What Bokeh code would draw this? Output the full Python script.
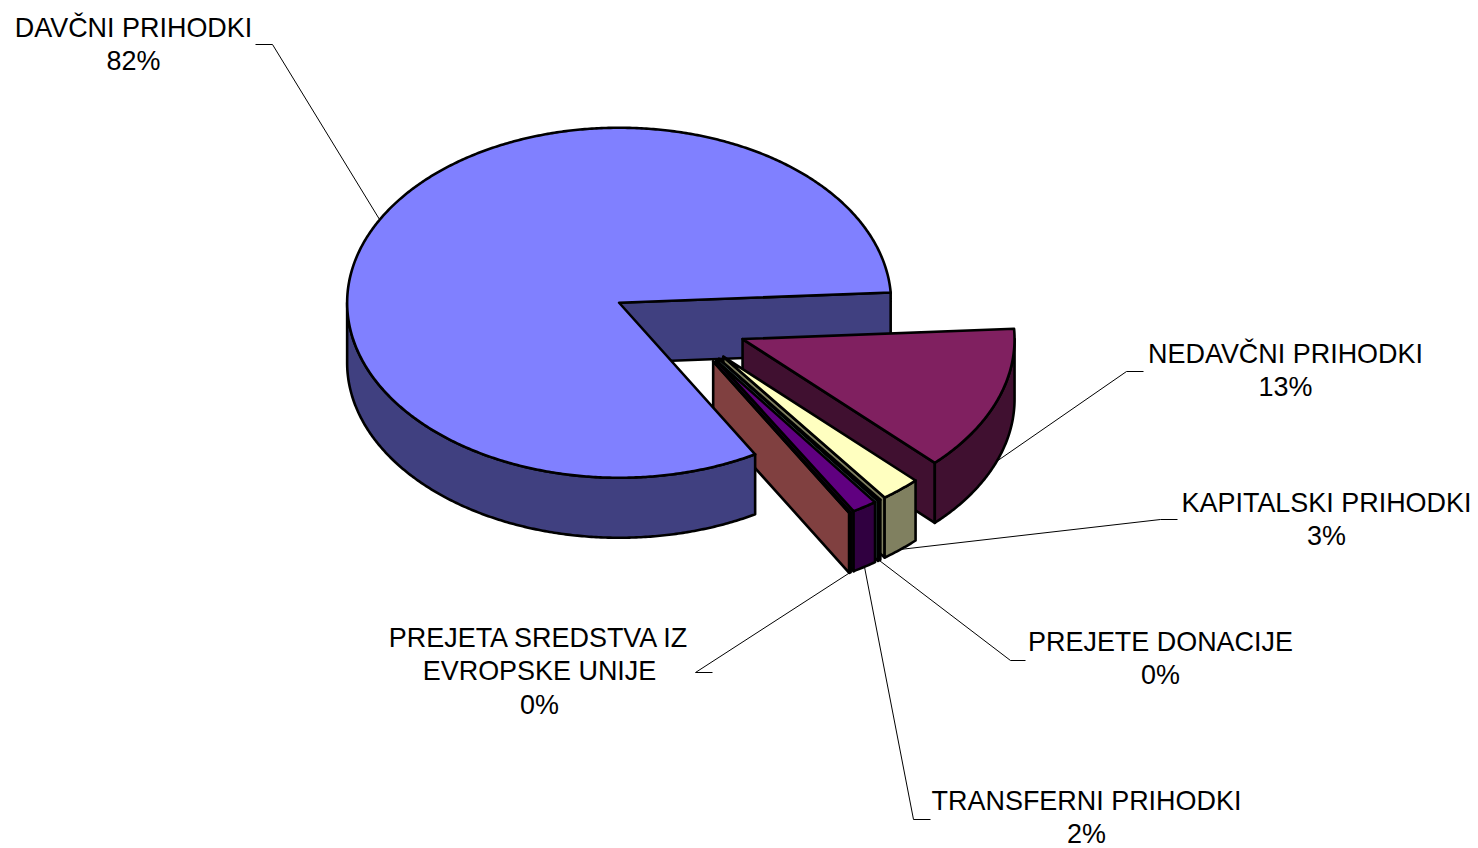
import numpy as np
from bokeh.plotting import figure
from bokeh.models import Range1d
from bokeh.core.properties import value
from bokeh.embed import file_html
from bokeh.resources import INLINE

# data
categories = ["DAVČNI PRIHODKI", "NEDAVČNI PRIHODKI", "KAPITALSKI PRIHODKI",
              "PREJETE DONACIJE", "TRANSFERNI PRIHODKI", "PREJETA SREDSTVA IZ EVROPSKE UNIJE"]
shares = [82.4, 13.44, 2.39, 0.17, 1.5, 0.1]
percent_labels = ["82%", "13%", "3%", "0%", "2%", "0%"]
top_colors = ["#8080FF", "#802060", "#FFFFC0", "#A0E0E0", "#600080", "#FF8080"]
side_colors = ["#404080", "#401030", "#808060", "#507070", "#300040", "#804040"]

# label layout: text centre x, first-line y, lines, leader elbow outer / inner x & y
label_lines = [["DAVČNI PRIHODKI"], ["NEDAVČNI PRIHODKI"], ["KAPITALSKI PRIHODKI"],
               ["PREJETE DONACIJE"], ["TRANSFERNI PRIHODKI"],
               ["PREJETA SREDSTVA IZ", "EVROPSKE UNIJE"]]
label_x = [133, 1285, 1326, 1160, 1086, 539]
label_y = [27, 353, 502, 641, 800, 637]
elbow_a = [(255, 44), (1143, 371), (1177, 519), (1025, 660), (930, 819), (712, 672)]
elbow_b = [(272, 44), (1126, 371), (1160, 519), (1010, 660), (913, 819), (695, 672)]

# 3-D pie geometry, in pixels of the picture
W, H = 1478, 848
CX, CY, RX, RY, DEPTH, EXPLODE = 678.5, 323.0, 272.0, 175.0, 60.0, 0.25
END_OF_FIRST = -60.0

p = figure(width=W, height=H, x_range=Range1d(0, W), y_range=Range1d(H, 0),
           toolbar_location=None, output_backend="svg", min_border=0,
           x_axis_type=None, y_axis_type=None, outline_line_color=None,
           background_fill_color="white", border_fill_color="white")
p.grid.visible = False


def pt(c, a, dy=0.0):
    r = np.radians(a)
    return c[0] + RX * np.cos(r), c[1] - RY * np.sin(r) + dy


def arc(c, a0, a1, dy=0.0):
    n = max(2, int(abs(a1 - a0) * 2) + 2)
    aa = np.linspace(a0, a1, n)
    r = np.radians(aa)
    return list(c[0] + RX * np.cos(r)), list(c[1] - RY * np.sin(r) + dy)


def draw(xs, ys, color):
    p.patch(xs, ys, fill_color=color, line_color="black", line_width=2.6, line_join="round")


sweeps = [s / sum(shares) * 360 for s in shares]
start = END_OF_FIRST
geo = []
anchors = []
for i, sw in enumerate(sweeps):
    a_hi, a_lo = start, start - sw
    start = a_lo
    mid = (a_hi + a_lo) / 2
    r = np.radians(mid)
    c = (CX + EXPLODE * RX * np.cos(r), CY - EXPLODE * RY * np.sin(r))
    if i > 0:
        a_hi += 360 if a_hi < -180 else 0
        a_lo += 360 if a_lo < -180 else 0
    geo.append((c, a_lo, a_hi))
    anchors.append(pt(c, mid) if i == 0 else pt(c, mid, DEPTH))


def radial(i):
    c, lo, hi = geo[i]
    x1, y1 = pt(c, lo)
    draw([c[0], x1, x1, c[0]], [c[1], y1, y1 + DEPTH, c[1] + DEPTH], side_colors[i])


def wall_and_top(i):
    c, lo, hi = geo[i]
    w0, w1 = max(lo, -180.0), min(hi, 0.0)
    if w1 > w0:
        ax, ay = arc(c, w0, w1)
        bx, by = arc(c, w1, w0, DEPTH)
        draw(ax + bx, ay + by, side_colors[i])
    ax, ay = arc(c, lo, hi)
    draw([c[0]] + ax, [c[1]] + ay, top_colors[i])


# the big slice's inner face lies behind the small slices, its top and wall in front
radial(0)
for i in range(1, len(shares)):
    radial(i)
    wall_and_top(i)
wall_and_top(0)

for i in range(len(categories)):
    p.line([elbow_a[i][0], elbow_b[i][0], anchors[i][0]],
           [elbow_a[i][1], elbow_b[i][1], anchors[i][1]],
           line_color="black", line_width=1)

LINE = 33.5
for i, lines in enumerate(label_lines):
    rows = lines + [percent_labels[i]]
    p.text([label_x[i]] * len(rows), [label_y[i] + LINE * k for k in range(len(rows))], text=rows,
           text_font=value("Liberation Sans"), text_font_size="26.95px", text_color="black",
           text_align="center", text_baseline="middle")

open("out.html", "w").write(file_html(p, INLINE))
